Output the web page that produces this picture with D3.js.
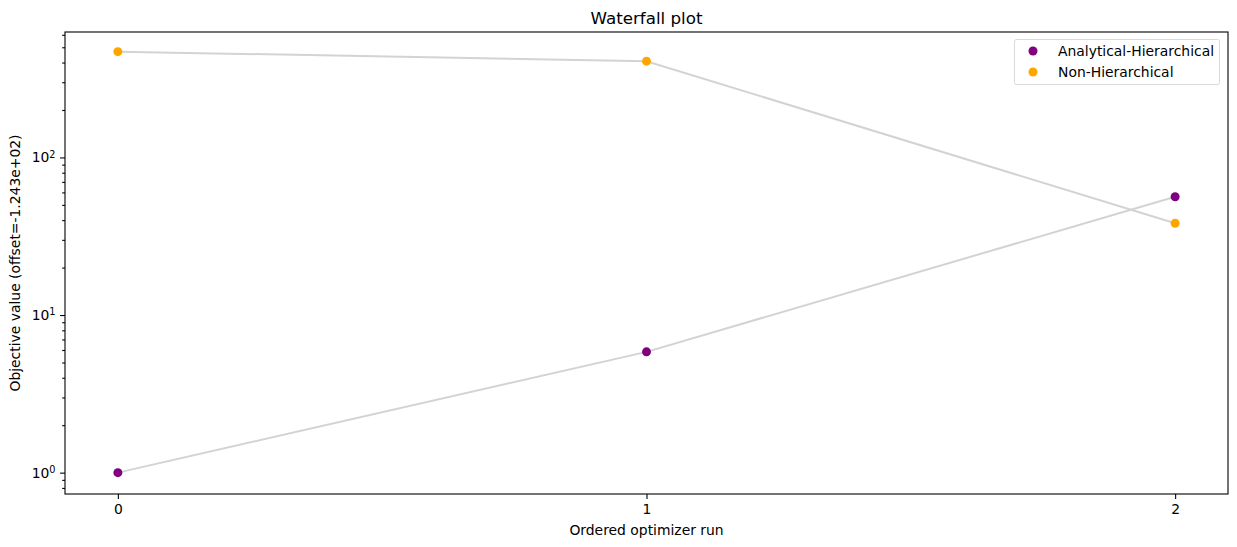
<!DOCTYPE html>
<html>
<head>
  <meta charset="utf-8">
  <title>Waterfall plot</title>
  <script src="https://d3js.org/d3.v7.min.js"></script>
  <style>
    body { margin: 0; background: #fff; }
    text { font-family: "DejaVu Sans", sans-serif; fill: #000; }
  </style>
</head>
<body>
  <script>
    // data
    var runs = [0, 1, 2];
    var seriesNames = ["Analytical-Hierarchical", "Non-Hierarchical"];
    var seriesColors = ["#800080", "#ffa500"];
    var hierValues = [1.0, 5.84, 56.3];
    var nonHierValues = [469, 408, 38.2];
    var xTicks = [0, 1, 2];
    var yTicks = [1, 10, 100];

    var width = 1237, height = 547;
    var mLeft = 65, mRight = 1228, mTop = 32, mBottom = 494;
    var fs = 13.9; // 10pt at 100 dpi

    var svg = d3.select("body").append("svg")
      .attr("width", width).attr("height", height);

    var x = d3.scaleLinear().domain([-0.1, 2.1]).range([mLeft, mRight]);
    var y = d3.scaleLog().domain([0.732, 625]).range([mBottom, mTop]);

    // lines + markers
    var series = [hierValues, nonHierValues];
    series.forEach(function (vals) {
      var pts = runs.map(function (r, j) { return [r, vals[j]]; });
      svg.append("path")
        .datum(pts)
        .attr("fill", "none")
        .attr("stroke", "#d3d3d3")
        .attr("stroke-width", 2)
        .attr("d", d3.line().x(d => x(d[0])).y(d => y(d[1])));
    });
    series.forEach(function (vals, i) {
      svg.append("g").selectAll("circle")
        .data(vals)
        .enter()
        .append("circle")
        .attr("cx", (d, j) => x(runs[j]))
        .attr("cy", d => y(d))
        .attr("r", 4.5)
        .attr("fill", seriesColors[i]);
    });

    // axes
    var xAxis = svg.append("g")
      .attr("transform", "translate(0," + mBottom + ")")
      .call(d3.axisBottom(x).tickValues(xTicks).tickFormat(d3.format("d")).tickSize(4.9).tickPadding(4.9));
    xAxis.select(".domain").remove();
    xAxis.attr("font-size", fs).attr("font-family", "DejaVu Sans");

    var minor = [];
    for (var e = -1; e <= 2; e++) {
      for (var m = 2; m <= 9; m++) {
        var v = m * Math.pow(10, e);
        if (v >= y.domain()[0] && v <= y.domain()[1]) minor.push(v);
      }
    }
    var yMinor = svg.append("g")
      .attr("transform", "translate(" + mLeft + ",0)")
      .call(d3.axisLeft(y).tickValues(minor).tickFormat("").tickSize(2.8));
    yMinor.select(".domain").remove();

    var yAxis = svg.append("g")
      .attr("transform", "translate(" + mLeft + ",0)")
      .call(d3.axisLeft(y).tickValues(yTicks).tickFormat("").tickSize(4.9));
    yAxis.select(".domain").remove();
    yAxis.selectAll(".tick").each(function (d) {
      var t = d3.select(this).append("text")
        .attr("x", -9.5).attr("dy", "0.32em")
        .attr("text-anchor", "end")
        .attr("font-size", fs);
      t.append("tspan").text("10");
      t.append("tspan").attr("dy", "-0.5em").attr("font-size", 9.7).text(Math.round(Math.log10(d)));
    });
    svg.selectAll(".tick line").attr("stroke-width", 1.1);

    // frame
    svg.append("rect")
      .attr("x", mLeft).attr("y", mTop)
      .attr("width", mRight - mLeft).attr("height", mBottom - mTop)
      .attr("fill", "none").attr("stroke", "#000").attr("stroke-width", 1.1);

    // labels
    svg.append("text")
      .attr("x", (mLeft + mRight) / 2).attr("y", 24)
      .attr("text-anchor", "middle").attr("font-size", 16.7)
      .text("Waterfall plot");
    svg.append("text")
      .attr("x", (mLeft + mRight) / 2).attr("y", 535)
      .attr("text-anchor", "middle").attr("font-size", fs)
      .text("Ordered optimizer run");
    svg.append("text")
      .attr("transform", "translate(20," + (mTop + mBottom) / 2 + ") rotate(-90)")
      .attr("text-anchor", "middle").attr("font-size", fs)
      .text("Objective value (offset=-1.243e+02)");

    // legend
    var lg = svg.append("g");
    lg.append("rect")
      .attr("x", 1014.5).attr("y", 39.5).attr("width", 205).attr("height", 45)
      .attr("rx", 2).attr("fill", "#fff").attr("fill-opacity", 0.8)
      .attr("stroke", "#d9d9d9");
    seriesNames.forEach(function (name, i) {
      lg.append("circle")
        .attr("cx", 1033).attr("cy", 51 + i * 21)
        .attr("r", 4.5).attr("fill", seriesColors[i]);
      lg.append("text")
        .attr("x", 1058).attr("y", 51 + i * 21).attr("dy", "0.35em")
        .attr("font-size", fs).text(name);
    });
  </script>
</body>
</html>
